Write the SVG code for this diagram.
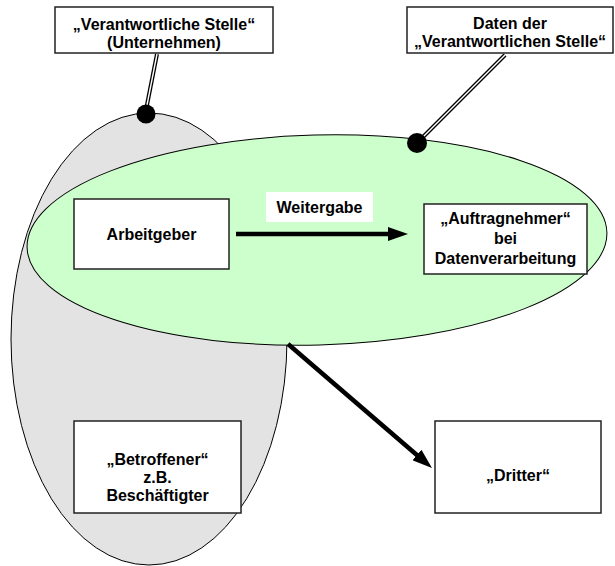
<svg xmlns="http://www.w3.org/2000/svg" width="615" height="566" viewBox="0 0 615 566">
<defs>
<style>
text{font-family:"Liberation Sans",Arial,sans-serif;font-weight:bold;font-size:16px;fill:#000;text-anchor:middle}
.box{fill:#fff;stroke:#222;stroke-width:1.5}
.ell{stroke:#000;stroke-width:1}
.arrow{stroke:#000;stroke-width:4.5;fill:none}
.leadO{stroke:#000;stroke-width:4;fill:none}
.leadI{stroke:#fff;stroke-width:1.4;fill:none}
</style>
<marker id="ah" markerUnits="userSpaceOnUse" markerWidth="20" markerHeight="14" refX="10" refY="7" orient="auto">
<path d="M0,0 L20,7 L0,14 z" fill="#000"/>
</marker>
</defs>
<rect width="615" height="566" fill="#fff"/>
<g id="unternehmen-ellipse">
<ellipse class="ell" cx="149" cy="339" rx="138" ry="226" fill="#e3e3e3"/>
</g>
<g id="daten-ellipse">
<ellipse class="ell" cx="317" cy="240" rx="290" ry="105" fill="#ccffcc" transform="rotate(-1.5 317 240)"/>
</g>
<g id="connectors">
<line class="arrow" x1="236" y1="234" x2="398" y2="234" marker-end="url(#ah)"/>
<line class="arrow" x1="288" y1="344" x2="424.4" y2="461.5" marker-end="url(#ah)"/>
<line class="leadO" x1="157" y1="54" x2="146" y2="110"/>
<line class="leadI" x1="157" y1="54" x2="146" y2="110"/>
<line class="leadO" x1="505" y1="55" x2="419" y2="141"/>
<line class="leadI" x1="505" y1="55" x2="419" y2="141"/>
</g>
<g id="dot-unternehmen"><circle cx="146" cy="114" r="9.5" fill="#000"/></g>
<g id="dot-daten"><circle cx="417" cy="143" r="10" fill="#000"/></g>
<g id="label-verantwortliche-stelle">
<rect class="box" x="55" y="7" width="218" height="46"/>
<text x="164" y="30">„Verantwortliche Stelle“</text>
<text x="164" y="48">(Unternehmen)</text>
</g>
<g id="label-daten">
<rect class="box" x="407" y="7" width="206" height="46"/>
<text x="510" y="29">Daten der</text>
<text x="510" y="47">„Verantwortlichen Stelle“</text>
</g>
<g id="arbeitgeber">
<rect class="box" x="74" y="199" width="155" height="70"/>
<text x="151.5" y="240">Arbeitgeber</text>
</g>
<g id="weitergabe">
<rect x="266" y="192" width="107" height="30" fill="#fff"/>
<text x="319.5" y="213">Weitergabe</text>
</g>
<g id="auftragnehmer">
<rect class="box" x="424" y="204" width="163" height="70"/>
<text x="505.5" y="224">„Auftragnehmer“</text>
<text x="505.5" y="244">bei</text>
<text x="505.5" y="264">Datenverarbeitung</text>
</g>
<g id="betroffener">
<rect class="box" x="74" y="421" width="167" height="92"/>
<text x="157.5" y="465">„Betroffener“</text>
<text x="157.5" y="483">z.B.</text>
<text x="157.5" y="501">Beschäftigter</text>
</g>
<g id="dritter">
<rect class="box" x="435" y="421" width="166" height="92"/>
<text x="518" y="481">„Dritter“</text>
</g>
</svg>
